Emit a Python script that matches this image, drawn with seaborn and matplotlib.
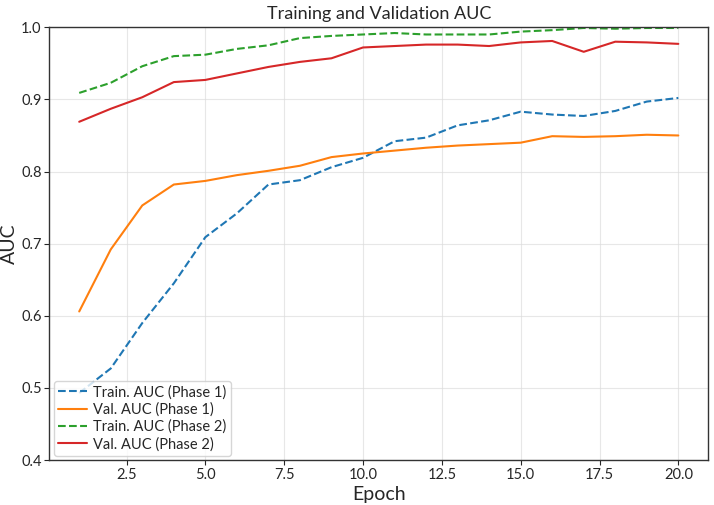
import matplotlib
matplotlib.use("Agg")
import matplotlib.pyplot as plt
import seaborn as sns
import pandas as pd

epochs = list(range(1, 21))
train_p1 = [0.493, 0.527, 0.590, 0.645, 0.709, 0.742, 0.782, 0.788, 0.806, 0.819,
            0.842, 0.847, 0.864, 0.871, 0.883, 0.879, 0.877, 0.884, 0.897, 0.902]
val_p1 = [0.606, 0.692, 0.753, 0.782, 0.787, 0.795, 0.801, 0.808, 0.820, 0.825,
          0.829, 0.833, 0.836, 0.838, 0.840, 0.849, 0.848, 0.849, 0.851, 0.850]
train_p2 = [0.909, 0.923, 0.946, 0.960, 0.962, 0.970, 0.975, 0.985, 0.988, 0.990,
            0.992, 0.990, 0.990, 0.990, 0.994, 0.996, 0.999, 0.998, 0.999, 0.999]
val_p2 = [0.869, 0.887, 0.903, 0.924, 0.927, 0.936, 0.945, 0.952, 0.957, 0.972,
          0.974, 0.976, 0.976, 0.974, 0.979, 0.981, 0.966, 0.980, 0.979, 0.977]

sns.set_style("white")
plt.rcParams['font.family'] = ['Lato', 'DejaVu Sans']

fig, ax = plt.subplots(figsize=(7.14, 5.05), dpi=100)

series = [
    ("Train. AUC (Phase 1)", train_p1, "#1f77b4", "--"),
    ("Val. AUC (Phase 1)", val_p1, "#ff7f0e", "-"),
    ("Train. AUC (Phase 2)", train_p2, "#2ca02c", "--"),
    ("Val. AUC (Phase 2)", val_p2, "#d62728", "-"),
]
for label, vals, color, ls in series:
    df = pd.DataFrame({"Epoch": epochs, "AUC": vals})
    sns.lineplot(data=df, x="Epoch", y="AUC", ax=ax, color=color,
                 linestyle=ls, linewidth=1.5, label=label)

ax.set_ylim(0.4, 1.0)
ax.set_title("Training and Validation AUC", fontsize=13)
ax.set_xlabel("Epoch", fontsize=14, labelpad=3)
ax.set_ylabel("AUC", fontsize=14, labelpad=2)
ax.tick_params(axis='both', labelsize=10.5, length=3.5, pad=2, direction='out', left=True, bottom=True)
ax.grid(True, color="#dddddd", alpha=0.7, linewidth=0.8)
for s in ax.spines.values():
    s.set_color("#333333")
    s.set_linewidth(1.0)
ax.legend(loc="lower left", fontsize=10.5, frameon=True, handlelength=2.0,
          borderpad=0.3, labelspacing=0.2, handletextpad=0.4, borderaxespad=0.3)

fig.subplots_adjust(left=0.069, right=0.992, top=0.946, bottom=0.089)
fig.savefig("out.png", dpi=100)
